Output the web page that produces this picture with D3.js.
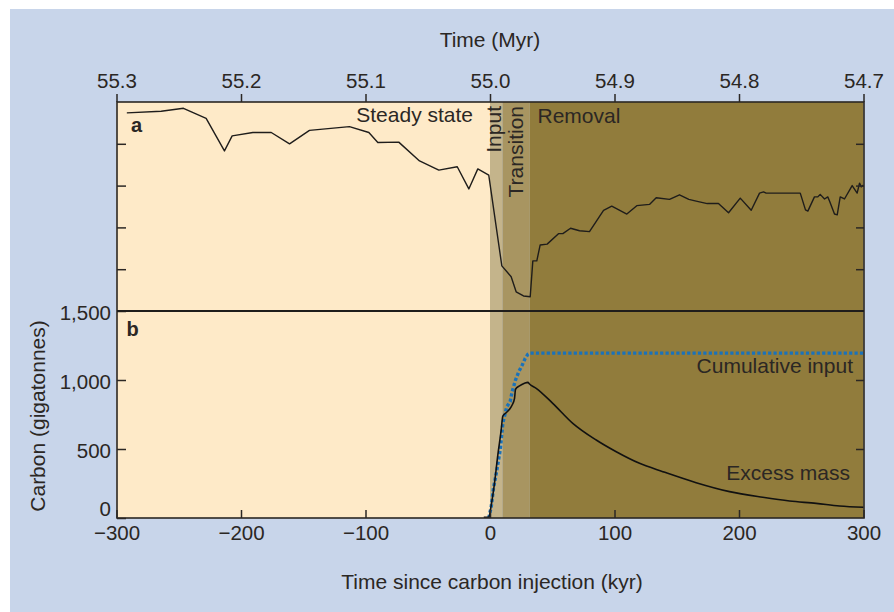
<!DOCTYPE html>
<html>
<head>
<meta charset="utf-8">
<script src="https://cdn.jsdelivr.net/npm/d3@7"></script>
<style>
  body { margin: 0; background: #ffffff; }
  svg { display: block; }
  text { font-family: "Liberation Sans", Arial, Helvetica, sans-serif; fill: #2b2724; }
</style>
</head>
<body>
<svg id="chart" width="894" height="612"></svg>
<script>
// ---------- DATA ----------
const kyrTicks = [-300, -200, -100, 0, 100, 200, 300];
const myrTicks = [55.3, 55.2, 55.1, 55.0, 54.9, 54.8, 54.7];
const carbonTicks = [0, 500, 1000, 1500];
const panelATicks = [1, 2, 3, 4];

const phaseNames = ["Steady state", "Input", "Transition", "Removal"];
const phaseStart = [-300, 0, 10, 32];
const phaseEnd = [0, 10, 32, 300];

// Panel a: proxy record (unlabelled relative units)
const aKyr = [-291.7, -264.1, -246.2, -228.0, -213.3, -207.1, -190.5, -175.7, -161.0, -145.0,
  -112.9, -97.3, -90.1, -73.3, -56.6, -41.1, -26.3, -17.0, -9.8, -1.0,
  9.5, 17.0, 21.0, 26.9, 32.3, 34.4, 37.6, 40.3, 45.9, 55.0,
  58.5, 64.7, 71.9, 79.9, 91.2, 97.8, 109.9, 117.9, 128.1, 133.5,
  144.2, 152.2, 159.7, 165.6, 174.5, 183.5, 191.6, 201.0, 209.8, 216.5,
  219.7, 221.8, 249.2, 253.4, 255.3, 260.6, 263.3, 265.2, 268.7, 271.3,
  272.7, 276.7, 278.9, 281.3, 284.7, 290.9, 294.9, 296.8, 298.2, 300];
const aValue = [4.74, 4.78, 4.85, 4.61, 3.83, 4.19, 4.27, 4.27, 4.00, 4.32,
  4.41, 4.27, 4.03, 4.04, 3.59, 3.37, 3.45, 2.92, 3.40, 3.25,
  1.08, 0.82, 0.46, 0.36, 0.34, 1.20, 1.20, 1.58, 1.60, 1.85,
  1.85, 1.98, 1.92, 1.90, 2.41, 2.51, 2.32, 2.52, 2.55, 2.71,
  2.67, 2.78, 2.67, 2.63, 2.57, 2.57, 2.35, 2.70, 2.41, 2.82,
  2.85, 2.82, 2.82, 2.42, 2.39, 2.73, 2.73, 2.79, 2.68, 2.73,
  2.63, 2.32, 2.30, 2.73, 2.68, 3.00, 2.82, 3.06, 2.97, 3.01];

// Panel b: cumulative carbon input (Gt)
const cumKyr = [-1, 1, 2.8, 5.5, 8.2, 10.3, 13.5, 16.2, 17.8, 20.5, 23.1, 25.9, 28.3, 30.4, 32.3, 300];
const cumCarbon = [0, 82, 215, 348, 493, 686, 807, 843, 915, 1000, 1060, 1109, 1157, 1186, 1195, 1195];

// Panel b: excess mass (Gt)
const excessKyr = [-5, -1, 1, 3.6, 6.3, 9, 10.3, 13, 15.7, 17.8, 19.7, 20.5, 23.7, 27.7, 30.4, 31.7,
  37.1, 50.4, 66.5, 85.3, 101.4, 120.1, 138.8, 165.6, 192.4, 219.1, 240.6, 262, 280.7, 300];
const excessCarbon = [5, 5, 94, 251, 457, 638, 739, 763, 788, 819, 867, 933, 957, 976, 983, 971,
  940, 831, 686, 565, 480, 396, 336, 256, 191, 150, 123, 106, 87, 78];

// ---------- STYLE ----------
const phaseColors = ["#feeac8", "#c4b48b", "#a89561", "#917c3c"];
const ink = "#2b2724";
const blue = "#1a72ba";

// ---------- LAYOUT ----------
const L = 117, R = 864, T = 102, MID = 311, B = 518;
const svg = d3.select("#chart");

svg.append("rect").attr("x", 10).attr("y", 9).attr("width", 884).attr("height", 603).attr("fill", "#c8d5ea");

const x = d3.scaleLinear().domain([-300, 300]).range([L - 0.5, R - 0.5]);
const xTop = d3.scaleLinear().domain([55.3, 54.7]).range([L - 0.5, R - 0.5]);
const yB = d3.scaleLinear().domain([0, 1500]).range([B, MID]);
const yA = d3.scaleLinear().domain([0, 5]).range([MID, T]);

// phase bands
svg.append("g").selectAll("rect").data(phaseNames).join("rect")
  .attr("x", (d, i) => x(phaseStart[i]))
  .attr("width", (d, i) => x(phaseEnd[i]) - x(phaseStart[i]))
  .attr("y", T).attr("height", B - T)
  .attr("fill", (d, i) => phaseColors[i]);

// phase labels
const fs = 21;
svg.append("text").attr("x", 473).attr("y", 122).attr("text-anchor", "end").attr("font-size", fs).text(phaseNames[0]);
svg.append("text").attr("transform", "translate(501,106) rotate(-90)").attr("text-anchor", "end").attr("font-size", fs).text(phaseNames[1]);
svg.append("text").attr("transform", "translate(522.5,106) rotate(-90)").attr("text-anchor", "end").attr("font-size", fs).text(phaseNames[2]);
svg.append("text").attr("x", 537.5).attr("y", 122.5).attr("font-size", fs).text(phaseNames[3]);

// panel letters
svg.append("text").attr("x", 131).attr("y", 132).attr("font-size", 20).attr("font-weight", "bold").text("a");
svg.append("text").attr("x", 126.5).attr("y", 336).attr("font-size", 20).attr("font-weight", "bold").text("b");

// panel a line
const lineA = d3.line().x(i => x(aKyr[i])).y(i => yA(aValue[i]));
svg.append("path").attr("d", lineA(d3.range(aKyr.length)))
  .attr("fill", "none").attr("stroke", "#1f1d1b").attr("stroke-width", 1.4).attr("stroke-linejoin", "round");

// panel b lines
const lineCum = d3.line().x(i => x(cumKyr[i])).y(i => yB(cumCarbon[i]));
svg.append("path").attr("d", lineCum(d3.range(cumKyr.length)))
  .attr("fill", "none").attr("stroke", blue).attr("stroke-width", 3.4).attr("stroke-dasharray", "3.2,2.2");

const lineEx = d3.line().curve(d3.curveMonotoneX).x(i => x(excessKyr[i])).y(i => yB(excessCarbon[i]));
svg.append("path").attr("d", lineEx(d3.range(excessKyr.length)))
  .attr("fill", "none").attr("stroke", "#111111").attr("stroke-width", 1.6).attr("stroke-linejoin", "round");

svg.append("text").attr("x", 853).attr("y", 373).attr("text-anchor", "end").attr("font-size", fs).text("Cumulative input");
svg.append("text").attr("x", 850).attr("y", 480).attr("text-anchor", "end").attr("font-size", fs).text("Excess mass");

// ---------- AXES ----------
const tickFs = 20.5;
function styleAxis(g) {
  g.select(".domain").remove();
  g.selectAll(".tick line").attr("stroke", ink).attr("stroke-width", 1.5);
  g.selectAll(".tick text").attr("font-size", tickFs).attr("fill", ink)
    .attr("font-family", "'Liberation Sans', Arial, sans-serif");
}

// bottom axis (ticks inward)
svg.append("g").attr("transform", `translate(0,${B})`)
  .call(d3.axisBottom(x).tickValues(kyrTicks).tickSizeInner(-8).tickSizeOuter(0).tickPadding(7.5))
  .call(styleAxis);

// top axis (ticks outward)
svg.append("g").attr("transform", `translate(0,${T})`)
  .call(d3.axisTop(xTop).tickValues(myrTicks).tickSizeInner(8).tickSizeOuter(0).tickPadding(6).tickFormat(d3.format(".1f")))
  .call(styleAxis);

// left axis panel b (ticks inward)
svg.append("g").attr("transform", `translate(${L},0)`)
  .call(d3.axisLeft(yB).tickValues(carbonTicks).tickSizeInner(-9).tickSizeOuter(0).tickPadding(6).tickFormat(d3.format(",")))
  .call(styleAxis)
  .call(g => g.selectAll(".tick text").attr("dy", d => d === 0 ? "-0.12em" : "0.4em"));

// right axis panel b (ticks inward, no labels)
svg.append("g").attr("transform", `translate(${R},0)`)
  .call(d3.axisRight(yB).tickValues([500, 1000]).tickSizeInner(-8).tickSizeOuter(0).tickFormat(""))
  .call(styleAxis);

// panel a ticks, both sides
svg.append("g").attr("transform", `translate(${L},0)`)
  .call(d3.axisLeft(yA).tickValues(panelATicks).tickSizeInner(-9).tickSizeOuter(0).tickFormat(""))
  .call(styleAxis);
svg.append("g").attr("transform", `translate(${R},0)`)
  .call(d3.axisRight(yA).tickValues(panelATicks).tickSizeInner(-8).tickSizeOuter(0).tickFormat(""))
  .call(styleAxis);

// frame and divider
svg.append("rect").attr("x", L).attr("y", T).attr("width", R - L).attr("height", B - T)
  .attr("fill", "none").attr("stroke", ink).attr("stroke-width", 1.6);
svg.append("line").attr("x1", L).attr("x2", R).attr("y1", MID).attr("y2", MID)
  .attr("stroke", "#1f1d1b").attr("stroke-width", 2);

// axis titles
svg.append("text").attr("x", 490).attr("y", 47).attr("text-anchor", "middle").attr("font-size", fs).text("Time (Myr)");
svg.append("text").attr("x", 492).attr("y", 589).attr("text-anchor", "middle").attr("font-size", fs).text("Time since carbon injection (kyr)");
svg.append("text").attr("transform", "translate(45,416) rotate(-90)").attr("text-anchor", "middle").attr("font-size", fs).text("Carbon (gigatonnes)");
</script>
</body>
</html>
